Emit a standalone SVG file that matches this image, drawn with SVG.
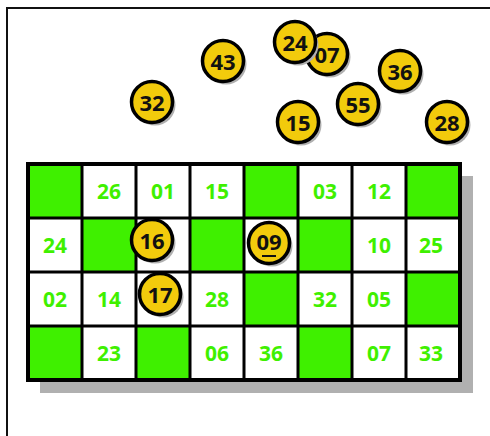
<svg xmlns="http://www.w3.org/2000/svg" width="490" height="436" viewBox="0 0 490 436">
<style>
.g{fill:#3ff000}
.w{fill:#ffffff}
.cl{fill:none;stroke:#000;stroke-width:3}
.ct{font-family:"Open Sans","DejaVu Sans",sans-serif;font-weight:bold;font-size:21px;fill:#3ff000;text-anchor:middle;dominant-baseline:central}
.bs{fill:#b0b0b0}
.bc{fill:#f2cb0c;stroke:#000;stroke-width:3.5}
.bt{font-family:"Open Sans","DejaVu Sans",sans-serif;font-weight:bold;font-size:22px;fill:#111;text-anchor:middle;dominant-baseline:central}
</style>
<defs>
<g id="ballshape">
<circle class="bs" cx="3" cy="3" r="20.5"/>
<circle class="bc" cx="0" cy="0" r="20.5"/>
</g>
</defs>
<rect width="490" height="436" fill="#fff"/>
<path d="M7 436 V8 H490" fill="none" stroke="#111" stroke-width="2"/>
<rect x="40" y="176" width="433" height="217" class="bs"/>
<g id="board">
<rect x="28" y="164" width="432" height="216" class="w"/>
<rect x="28" y="164" width="54" height="54" class="g"/>
<rect x="244" y="164" width="54" height="54" class="g"/>
<rect x="406" y="164" width="54" height="54" class="g"/>
<rect x="82" y="218" width="54" height="54" class="g"/>
<rect x="190" y="218" width="54" height="54" class="g"/>
<rect x="298" y="218" width="54" height="54" class="g"/>
<rect x="244" y="272" width="54" height="54" class="g"/>
<rect x="406" y="272" width="54" height="54" class="g"/>
<rect x="28" y="326" width="54" height="54" class="g"/>
<rect x="136" y="326" width="54" height="54" class="g"/>
<rect x="298" y="326" width="54" height="54" class="g"/>
<path class="cl" d="M82 164V380M136 164V380M190 164V380M244 164V380M298 164V380M352 164V380M406 164V380M28 218H460M28 272H460M28 326H460"/>
<rect x="28" y="164" width="432" height="216" fill="none" stroke="#000" stroke-width="4"/>
<text class="ct" x="109" y="191">26</text>
<text class="ct" x="163" y="191">01</text>
<text class="ct" x="217" y="191">15</text>
<text class="ct" x="325" y="191">03</text>
<text class="ct" x="379" y="191">12</text>
<text class="ct" x="55" y="245">24</text>
<text class="ct" x="379" y="245">10</text>
<text class="ct" x="431" y="245">25</text>
<text class="ct" x="55" y="299">02</text>
<text class="ct" x="109" y="299">14</text>
<text class="ct" x="217" y="299">28</text>
<text class="ct" x="325" y="299">32</text>
<text class="ct" x="379" y="299">05</text>
<text class="ct" x="109" y="353">23</text>
<text class="ct" x="217" y="353">06</text>
<text class="ct" x="271" y="353">36</text>
<text class="ct" x="379" y="353">07</text>
<text class="ct" x="431" y="353">33</text>
</g>
<g id="ball43"><use href="#ballshape" x="223" y="61"/><text class="bt" x="223" y="61">43</text></g>
<g id="ball32"><use href="#ballshape" x="152" y="102"/><text class="bt" x="152" y="102">32</text></g>
<g id="ball07"><use href="#ballshape" x="327" y="54"/><text class="bt" x="327" y="54">07</text></g>
<g id="ball24"><use href="#ballshape" x="295" y="42"/><text class="bt" x="295" y="42">24</text></g>
<g id="ball36"><use href="#ballshape" x="400" y="71"/><text class="bt" x="400" y="71">36</text></g>
<g id="ball55"><use href="#ballshape" x="358" y="104"/><text class="bt" x="358" y="104">55</text></g>
<g id="ball15"><use href="#ballshape" x="298" y="122"/><text class="bt" x="298" y="122">15</text></g>
<g id="ball28"><use href="#ballshape" x="447" y="122"/><text class="bt" x="447" y="122">28</text></g>
<g id="ball16"><use href="#ballshape" x="152" y="240"/><text class="bt" x="152" y="240">16</text></g>
<g id="ball09"><use href="#ballshape" x="269" y="243"/><text class="bt" x="269" y="241">09</text><path d="M262 256H276" stroke="#111" stroke-width="2"/></g>
<g id="ball17"><use href="#ballshape" x="160" y="294"/><text class="bt" x="160" y="294">17</text></g>
</svg>
